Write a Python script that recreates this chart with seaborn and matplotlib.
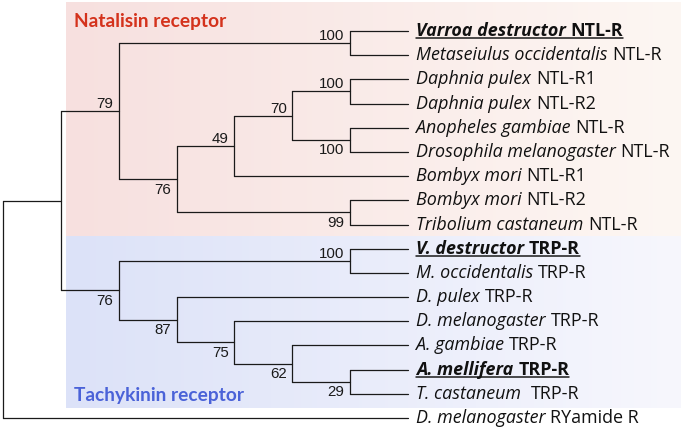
import numpy as np
import pandas as pd
import matplotlib
matplotlib.use("Agg")
import matplotlib.pyplot as plt
from matplotlib.colors import LinearSegmentedColormap
import seaborn as sns

# --- data --------------------------------------------------------------------
LEAF_SPECIES = [
    "Varroa destructor", "Metaseiulus occidentalis", "Daphnia pulex", "Daphnia pulex",
    "Anopheles gambiae", "Drosophila melanogaster", "Bombyx mori", "Bombyx mori",
    "Tribolium castaneum", "V. destructor", "M. occidentalis", "D. pulex",
    "D. melanogaster", "A. gambiae", "A. mellifera", "T. castaneum ", "D. melanogaster",
]
LEAF_GENE = [
    "NTL-R", "NTL-R", "NTL-R1", "NTL-R2", "NTL-R", "NTL-R", "NTL-R1", "NTL-R2", "NTL-R",
    "TRP-R", "TRP-R", "TRP-R", "TRP-R", "TRP-R", "TRP-R", "TRP-R", "RYamide R",
]
HIGHLIGHT = [0, 9, 14]

# (bootstrap, child, child); ints are leaf indices
TREE = (None,
        (None,
         (79, (100, 0, 1),
              (76, (49, (70, (100, 2, 3), (100, 4, 5)), 6), (99, 7, 8))),
         (76, (100, 9, 10),
              (87, 11, (75, 12, (62, 13, (29, 14, 15)))))),
        16)

CLADE_NAMES = ["Natalisin receptor", "Tachykinin receptor"]
CLADE_COLORS = ["#d4321c", "#4a62d8"]
CLADE_FILL = [("#f7e0df", "#fdf7f3"), ("#dce2f8", "#f7f7fd")]
CLADE_SPAN = [(-0.5, 8.5), (8.5, 15.6)]  # leaf rows covered by each box

# --- layout ------------------------------------------------------------------
X0, X_STEP = 3, 57.86   # px
Y0, Y_STEP = 31, 24.19  # px
W, H = 685, 429


def height(node):
    if isinstance(node, int):
        return 0
    return 1 + max(height(node[1]), height(node[2]))


TIP_X = height(TREE)
segs, supports = [], []


def layout(node, upper=True):
    if isinstance(node, int):
        return TIP_X, node
    (xa, ya), (xb, yb) = layout(node[1], True), layout(node[2], False)
    x, y = TIP_X - height(node), (ya + yb) / 2
    segs.append([(x, ya), (x, yb)])
    segs.append([(x, ya), (xa, ya)])
    segs.append([(x, yb), (xb, yb)])
    if node[0] is not None:
        supports.append((x, y, node[0], upper))
    return x, y


layout(TREE)
rows = [(i, px, py) for i, s in enumerate(segs) for px, py in s]
df = pd.DataFrame(rows, columns=["seg", "x", "y"])

# --- plot --------------------------------------------------------------------
sns.set_theme(style="white")
plt.rcParams["font.family"] = ["Open Sans", "DejaVu Sans"]

fig = plt.figure(figsize=(W / 100, H / 100), dpi=100)
ax = fig.add_axes([0, 0, 1, 1])
xlim = (-X0 / X_STEP, (W - X0) / X_STEP)
ylim = ((H - Y0) / Y_STEP, -Y0 / Y_STEP)

box_x0 = (66 - X0) / X_STEP
box_x1 = (681 - X0) / X_STEP
grad = np.linspace(0, 1, 256)[None, :]
for (y0, y1), (c0, c1), name, col in zip(CLADE_SPAN, CLADE_FILL, CLADE_NAMES, CLADE_COLORS):
    top = -1.2 if y0 < 0 else y0
    cmap = LinearSegmentedColormap.from_list(name, [c0, c1])
    ax.imshow(grad, cmap=cmap, extent=(box_x0, box_x1, y1, top),
              aspect="auto", zorder=0, interpolation="bicubic")
for yb, name, col in zip([-0.18, 15.3], CLADE_NAMES, CLADE_COLORS):
    ax.text(box_x0 + 0.14, yb, name, color=col, fontsize=13.8,
            fontweight="bold", va="baseline", family=["Lato"])

sns.lineplot(data=df, x="x", y="y", units="seg", estimator=None, sort=False,
             color="#1a1a1a", lw=0.9, ax=ax, zorder=2)

for x, y, val, upper in supports:
    ax.annotate(str(val), (x, y), xytext=(-4, 0 if upper else -2.5),
                textcoords="offset points", ha="right",
                va="bottom" if upper else "top", fontsize=10.8,
                family=["Liberation Sans"], color="#1a1a1a")

pairs = []
for i, (sp, gene) in enumerate(zip(LEAF_SPECIES, LEAF_GENE)):
    w = "bold" if i in HIGHLIGHT else "normal"
    t1 = ax.annotate(sp, (TIP_X, i), xytext=(6, 0), textcoords="offset points",
                     va="center", fontsize=12.9, style="italic", fontweight=w,
                     color="#111111")
    t2 = ax.annotate(gene, (1, 0), xycoords=t1, xytext=(3.3, 0),
                     textcoords="offset points", va="bottom", fontsize=12.9,
                     fontweight=w, color="#111111")
    if i in HIGHLIGHT:
        pairs.append((t1, t2))

ax.set_xlim(*xlim)
ax.set_ylim(*ylim)
ax.axis("off")

# underline the highlighted labels
fig.canvas.draw()
inv = ax.transData.inverted()
for t1, t2 in pairs:
    b1, b2 = t1.get_window_extent(), t2.get_window_extent()
    (xa, ya), (xb, _) = inv.transform([(b1.x0, b1.y0 + 2), (b2.x1, b1.y0 + 2)])
    ax.plot([xa, xb], [ya, ya], color="#1a1a1a", lw=1.1)

fig.savefig("out.png", dpi=100)
